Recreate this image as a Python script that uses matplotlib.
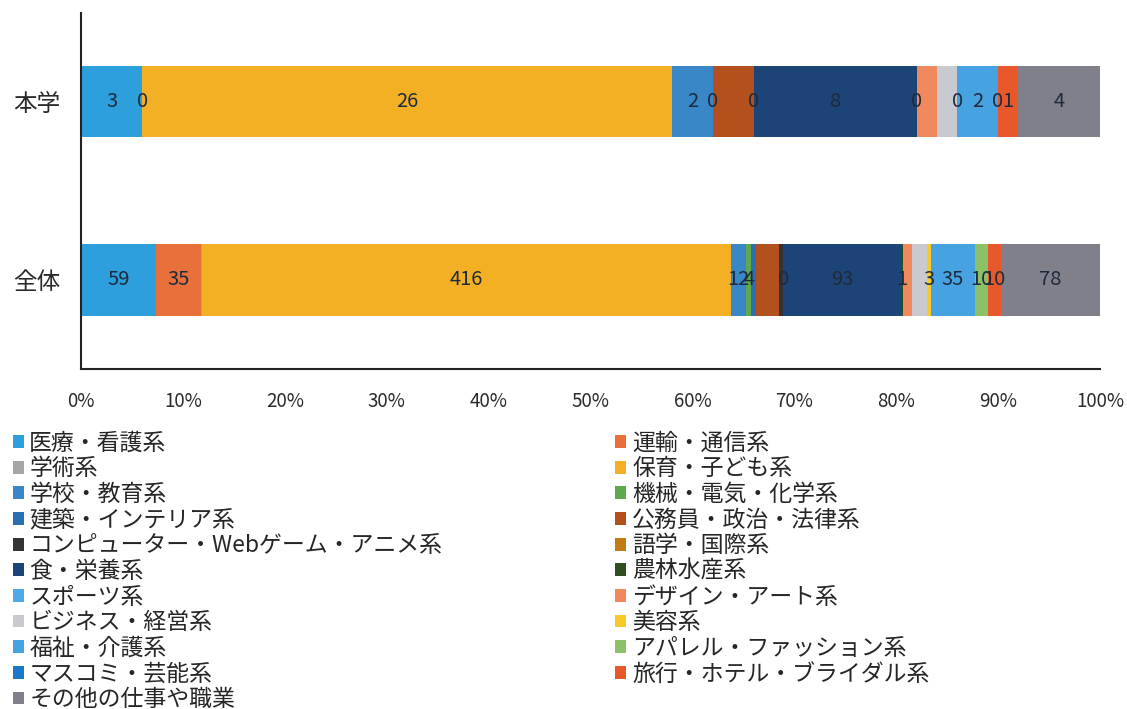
import matplotlib
matplotlib.use("Agg")
import matplotlib.pyplot as plt
from matplotlib.patches import Patch
from matplotlib.ticker import PercentFormatter

# 日本語フォント
plt.rcParams['font.family'] = ['Noto Sans CJK JP', 'DejaVu Sans']

# 行（上から 本学, 全体）
groups = ['全体', '本学']

# 系列（Excel の凡例を行優先で読んだ順）
categories = [
    '医療・看護系', '運輸・通信系', '学術系', '保育・子ども系', '学校・教育系',
    '機械・電気・化学系', '建築・インテリア系', '公務員・政治・法律系',
    'コンピューター・Webゲーム・アニメ系', '語学・国際系', '食・栄養系', '農林水産系',
    'スポーツ系', 'デザイン・アート系', 'ビジネス・経営系', '美容系', '福祉・介護系',
    'アパレル・ファッション系', 'マスコミ・芸能系', '旅行・ホテル・ブライダル系',
    'その他の仕事や職業',
]

honbu = [3, 0, 0, 26, 2, 0, 0, 2, 0, 0, 8, 0, 0, 1, 1, 0, 2, 0, 0, 1, 4]
zentai = [59, 35, 1, 416, 12, 4, 4, 18, 3, 0, 93, 1, 0, 7, 12, 3, 35, 10, 0, 10, 78]

colors = [
    '#2d9fdd', '#e8703a', '#a5a5a5', '#f4b024', '#3a87c8',
    '#5fa84b', '#2a6fb0', '#b4501e', '#333333', '#c07b12', '#1d4477', '#2f4f22',
    '#4fa8e8', '#f08a5d', '#c9c9d0', '#f7ca2a', '#47a2e2',
    '#8cc168', '#1b78c8', '#e8582a', '#80808a',
]

# データラベルを表示する系列
labeled = {'医療・看護系', '運輸・通信系', '保育・子ども系', '学校・教育系', '機械・電気・化学系',
           '語学・国際系', '食・栄養系', '農林水産系', '美容系', '福祉・介護系',
           'アパレル・ファッション系', '旅行・ホテル・ブライダル系', 'その他の仕事や職業'}

fig = plt.figure(figsize=(11.27, 7.09), dpi=100)
ax = fig.add_axes([0.0719, 0.4795, 0.9041, 0.5025])

counts = [zentai, honbu]
totals = [sum(c) for c in counts]
lefts = [0.0, 0.0]
for i, name in enumerate(categories):
    vals = [counts[0][i], counts[1][i]]
    widths = [v / t * 100 for v, t in zip(vals, totals)]
    bars = ax.barh([0, 1], widths, left=lefts, height=0.4, color=colors[i], linewidth=0)
    if name in labeled:
        ax.bar_label(bars, labels=[str(v) for v in vals], label_type='center',
                     fontsize=14.5, color='#1f2a3c')
    lefts = [l + w for l, w in zip(lefts, widths)]

ax.set_xlim(0, 100)
ax.set_ylim(-0.5, 1.5)
ax.set_yticks([0, 1])
ax.set_yticklabels(groups, fontsize=17, color='#2a2a2a')
ax.set_xticks(range(0, 101, 10))
ax.xaxis.set_major_formatter(PercentFormatter(decimals=0))
ax.tick_params(axis='x', length=0, pad=16, labelsize=13.5, labelcolor='#2a2a2a')
ax.tick_params(axis='y', length=0, pad=15)
for s in ['top', 'right']:
    ax.spines[s].set_visible(False)
for s in ['left', 'bottom']:
    ax.spines[s].set_color('#222222')
    ax.spines[s].set_linewidth(1.5)

# 凡例（2列）
handles = [Patch(facecolor=c, edgecolor='none') for c in colors]
col1 = list(range(0, len(categories), 2))
col2 = list(range(1, len(categories), 2))
for idx, x in [(col1, 0.003), (col2, 0.538)]:
    fig.legend([handles[k] for k in idx], [categories[k] for k in idx],
               loc='upper left', bbox_to_anchor=(x, 0.404), frameon=False,
               fontsize=16.5, handlelength=0.48, handleheight=0.48, handletextpad=0.25,
               labelspacing=0.115, borderaxespad=0, labelcolor='#262626')

plt.savefig('out.png', dpi=100)
plt.close()
